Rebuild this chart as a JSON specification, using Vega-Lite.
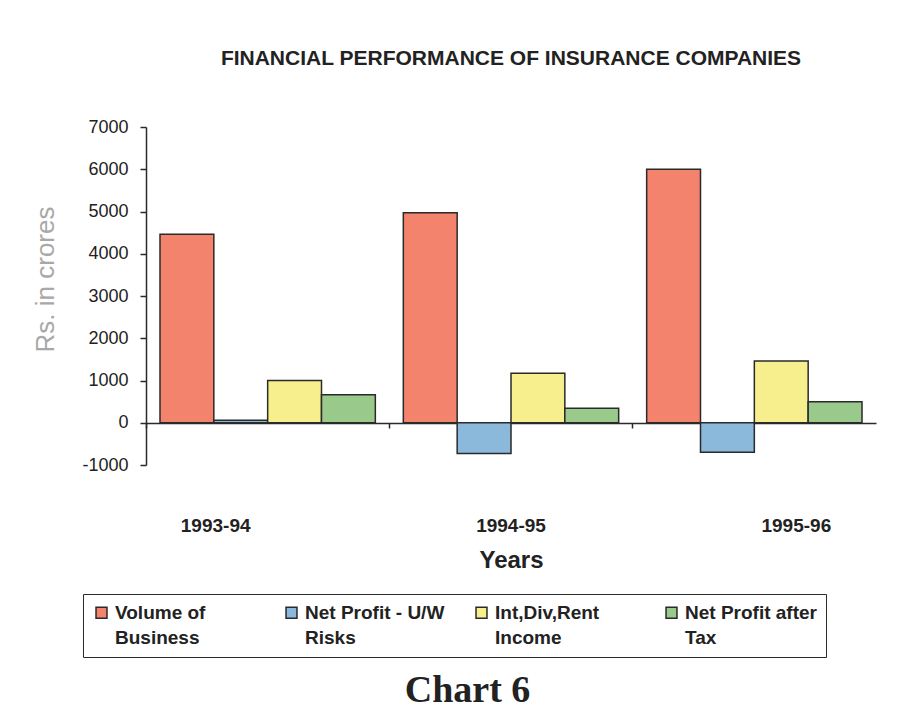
{
  "$schema": "https://vega.github.io/schema/vega-lite/v6.json",
  "background": "white",
  "padding": {"left": 32, "top": 48, "right": 10, "bottom": 10},
  "title": {
    "text": "Chart 6",
    "orient": "bottom",
    "anchor": "middle",
    "frame": "bounds",
    "font": "Liberation Serif",
    "fontSize": 38,
    "fontWeight": "bold",
    "color": "#222",
    "offset": 14,
    "dx": 13
  },
  "data": {
    "values": [
      {"year": "1993-94", "series": "Volume of Business", "value": 4460},
      {"year": "1993-94", "series": "Net Profit - U/W Risks", "value": 60},
      {"year": "1993-94", "series": "Int,Div,Rent Income", "value": 1000},
      {"year": "1993-94", "series": "Net Profit after Tax", "value": 660},
      {"year": "1994-95", "series": "Volume of Business", "value": 4970},
      {"year": "1994-95", "series": "Net Profit - U/W Risks", "value": -730},
      {"year": "1994-95", "series": "Int,Div,Rent Income", "value": 1170},
      {"year": "1994-95", "series": "Net Profit after Tax", "value": 345},
      {"year": "1995-96", "series": "Volume of Business", "value": 6000},
      {"year": "1995-96", "series": "Net Profit - U/W Risks", "value": -700},
      {"year": "1995-96", "series": "Int,Div,Rent Income", "value": 1460},
      {"year": "1995-96", "series": "Net Profit after Tax", "value": 500}
    ]
  },
  "vconcat": [
    {
      "width": 730,
      "height": 338,
      "title": {
        "text": "FINANCIAL PERFORMANCE OF INSURANCE COMPANIES",
        "anchor": "middle",
        "frame": "group",
        "font": "Liberation Sans",
        "fontSize": 21,
        "fontWeight": "bold",
        "color": "#222",
        "offset": 49
      },
      "mark": {"type": "bar", "stroke": "#2a2a2a", "strokeWidth": 1.5},
      "encoding": {
        "x": {
          "field": "year",
          "type": "nominal",
          "sort": null,
          "scale": {"paddingInner": 0, "paddingOuter": 0},
          "axis": {
            "title": "Years",
            "titleFont": "Liberation Sans",
            "titleFontSize": 24,
            "titleFontWeight": "bold",
            "titleColor": "#222",
            "titlePadding": 13,
            "labelAngle": 0,
            "labelFont": "Liberation Sans",
            "labelFontSize": 19,
            "labelFontWeight": "bold",
            "labelColor": "#222",
            "labelPadding": 88,
            "labelOffset": {"expr": "datum.value == '1993-94' ? -52 : datum.value == '1995-96' ? 42 : 0"},
            "offset": -42,
            "bandPosition": 0,
            "domainColor": "#2a2a2a",
            "domainWidth": 1.5,
            "tickColor": "#2a2a2a",
            "tickWidth": 1.5,
            "tickSize": 5
          }
        },
        "xOffset": {
          "field": "series",
          "type": "nominal",
          "sort": null,
          "scale": {"paddingInner": 0, "paddingOuter": 0.26}
        },
        "y": {
          "field": "value",
          "type": "quantitative",
          "scale": {"domain": [-1000, 7000], "nice": false},
          "axis": {
            "title": "Rs. in crores",
            "titleFont": "Liberation Sans",
            "titleFontSize": 26,
            "titleFontWeight": "normal",
            "titleColor": "#a8a8a8",
            "titlePadding": 23,
            "titleY": 152,
            "values": [-1000, 0, 1000, 2000, 3000, 4000, 5000, 6000, 7000],
            "labelExpr": "datum.value < 0 ? '-' + abs(datum.value) : '' + datum.value",
            "labelFont": "Liberation Sans",
            "labelFontSize": 18,
            "labelColor": "#222",
            "labelPadding": 12,
            "grid": false,
            "domainColor": "#2a2a2a",
            "domainWidth": 1.5,
            "tickColor": "#2a2a2a",
            "tickWidth": 1.5,
            "tickSize": 6
          }
        },
        "color": {
          "field": "series",
          "type": "nominal",
          "sort": null,
          "scale": {
            "domain": ["Volume of Business", "Net Profit - U/W Risks", "Int,Div,Rent Income", "Net Profit after Tax"],
            "range": ["#f3836c", "#8ab9db", "#f7ef8e", "#99c98b"]
          },
          "legend": {
            "title": null,
            "orient": "none",
            "legendX": -63,
            "legendY": 467,
            "direction": "horizontal",
            "columns": 4,
            "gridAlign": "all",
            "columnPadding": 27,
            "padding": 9,
            "strokeColor": "#2a2a2a",
            "symbolType": "square",
            "symbolSize": 120,
            "symbolStrokeColor": "#2a2a2a",
            "symbolStrokeWidth": 1.5,
            "symbolOpacity": 1,
            "labelFont": "Liberation Sans",
            "labelFontSize": 19,
            "labelFontWeight": "bold",
            "labelColor": "#222",
            "labelLimit": 400,
            "labelOffset": 4,
            "labelExpr": "datum.label == 'Volume of Business' ? ['Volume of', 'Business'] : datum.label == 'Net Profit - U/W Risks' ? ['Net Profit - U/W', 'Risks'] : datum.label == 'Int,Div,Rent Income' ? ['Int,Div,Rent', 'Income'] : ['Net Profit after', 'Tax']"
          }
        }
      }
    }
  ],
  "config": {
    "view": {"stroke": null},
    "style": {"guide-label": {"lineHeight": 25}}
  }
}
